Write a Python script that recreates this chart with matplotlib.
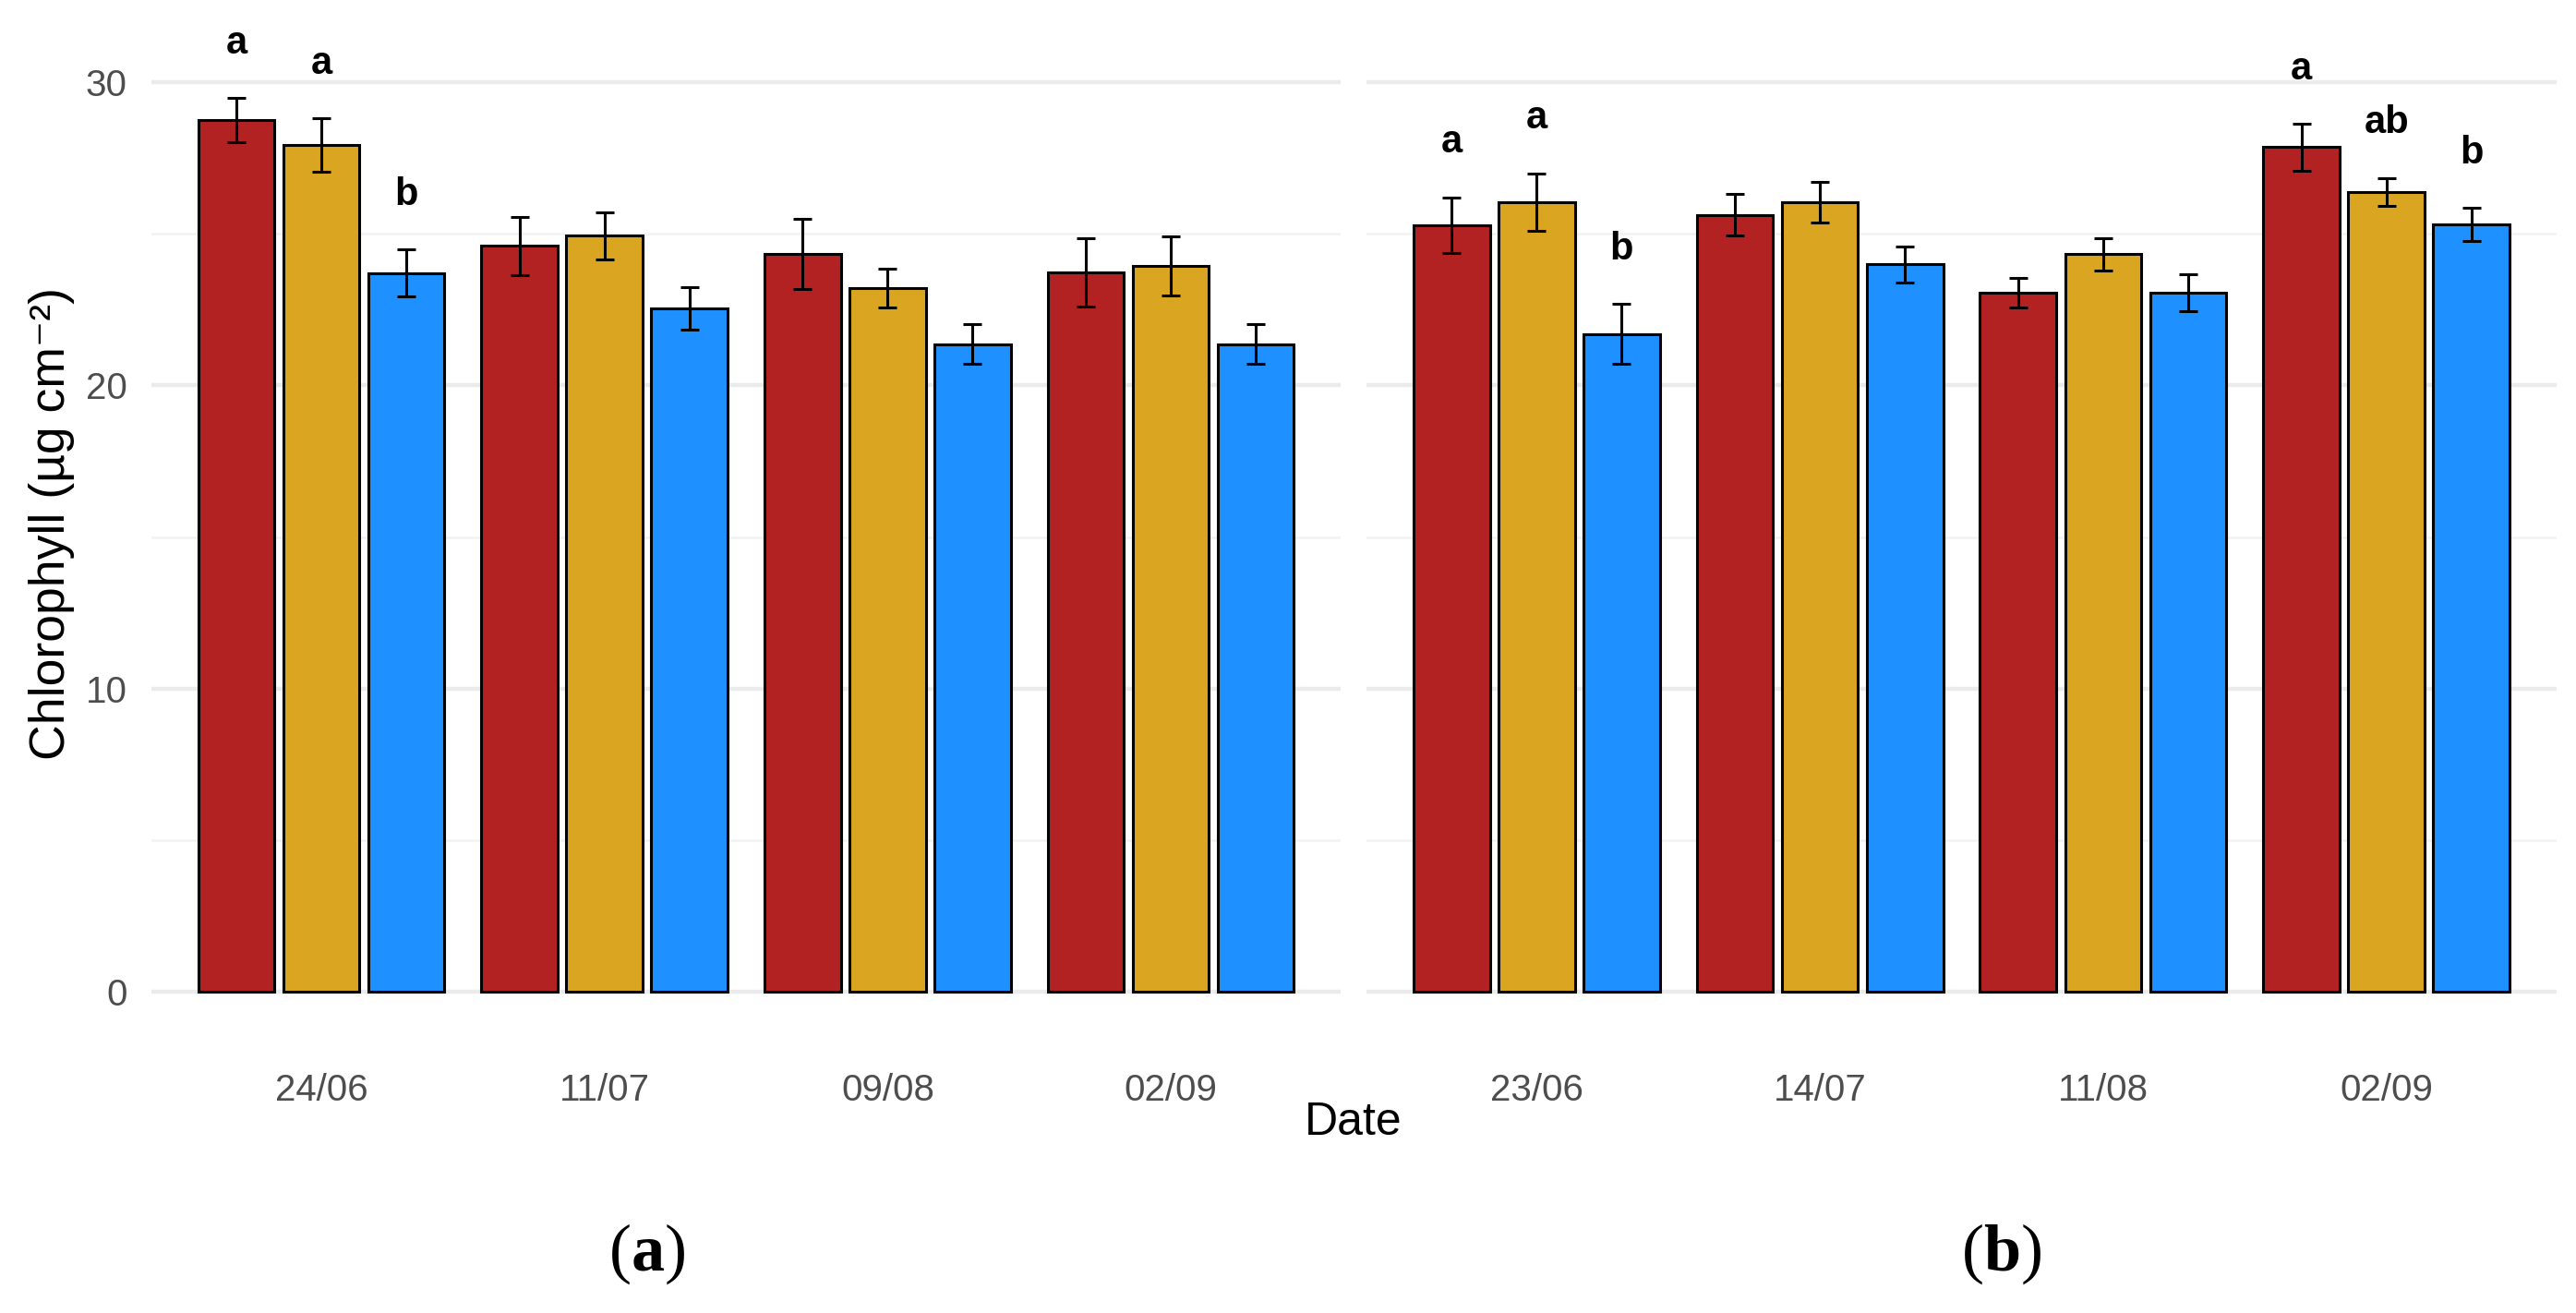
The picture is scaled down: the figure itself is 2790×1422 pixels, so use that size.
import matplotlib
matplotlib.use("Agg")
import matplotlib.pyplot as plt
import numpy as np

# ---------------- data ----------------
dates_a = ["24/06", "11/07", "09/08", "02/09"]
dates_b = ["23/06", "14/07", "11/08", "02/09"]
treatments = ["T1", "T2", "T3"]
colors = ["#B22222", "#DAA520", "#1E90FF"]

# panel (a) means and standard errors (rows: treatments, cols: dates)
mean_a = [[28.75, 24.60, 24.33, 23.74],
          [27.93, 24.94, 23.22, 23.95],
          [23.71, 22.54, 21.36, 21.36]]
se_a = [[0.73, 0.95, 1.16, 1.13],
        [0.88, 0.78, 0.64, 0.97],
        [0.78, 0.71, 0.66, 0.66]]
letters_a = [["a", "", "", ""],
             ["a", "", "", ""],
             ["b", "", "", ""]]

# panel (b)
mean_b = [[25.29, 25.63, 23.06, 27.86],
          [26.05, 26.04, 24.33, 26.39],
          [21.70, 23.99, 23.06, 25.31]]
se_b = [[0.92, 0.69, 0.48, 0.78],
        [0.95, 0.67, 0.54, 0.46],
        [0.99, 0.59, 0.60, 0.56]]
letters_b = [["a", "", "", "a"],
             ["a", "", "", "ab"],
             ["b", "", "", "b"]]

yticks = [0, 10, 20, 30]
yminor = [5, 15, 25]

# ---------------- layout ----------------
W, H = 2790, 1422
fig = plt.figure(figsize=(W / 100, H / 100), dpi=100)

ylo, yhi = -1.5, 32.7
y0_px, ppu = 1074, 32.83
top_px = y0_px - ppu * yhi
bot_px = y0_px - ppu * ylo
ax_bottom = 1 - bot_px / H
ax_height = (bot_px - top_px) / H

def make_ax(x0, x1):
    return fig.add_axes([x0 / W, ax_bottom, (x1 - x0) / W, ax_height])

ax_a = make_ax(164, 1452)
ax_b = make_ax(1480, 2769)

font = "Liberation Sans"
dodge = 0.3
bw = 0.27

def draw(ax, dates, means, ses, letters, show_y):
    x = np.arange(1, len(dates) + 1)
    ax.set_xlim(0.4, len(dates) + 0.6)
    ax.set_ylim(ylo, yhi)
    for g in yticks:
        ax.axhline(g, color="#EBEBEB", lw=3.2, zorder=0)
    for g in yminor:
        ax.axhline(g, color="#F2F2F2", lw=1.8, zorder=0)
    for i in range(len(treatments)):
        xs = x + (i - 1) * dodge
        ax.bar(xs, means[i], width=bw, color=colors[i], edgecolor="black",
               linewidth=2.2, zorder=2)
        ax.errorbar(xs, means[i], yerr=ses[i], fmt="none", ecolor="black",
                    elinewidth=2.2, capsize=7.5, capthick=2.2, zorder=3)
        for j in range(len(dates)):
            if letters[i][j]:
                ax.text(xs[j], means[i][j] + ses[i][j] + 1.8, letters[i][j],
                        ha="center", va="center", fontsize=30, fontweight="bold",
                        family=font, color="black", zorder=4, clip_on=False)
    for s in ax.spines.values():
        s.set_visible(False)
    ax.set_xticks(x)
    ax.set_xticklabels(dates, family=font, fontsize=29, color="#4D4D4D")
    ax.tick_params(axis="x", length=0, pad=28)
    ax.set_yticks(yticks)
    if show_y:
        ax.set_yticklabels([str(t) for t in yticks], family=font, fontsize=29,
                           color="#4D4D4D")
        ax.tick_params(axis="y", length=0, pad=19)
    else:
        ax.set_yticklabels([])
        ax.tick_params(axis="y", length=0)
    ax.set_facecolor("white")

draw(ax_a, dates_a, mean_a, se_a, letters_a, True)
draw(ax_b, dates_b, mean_b, se_b, letters_b, False)

fig.text(56 / W, 1 - 567 / H, "Chlorophyll (µg cm⁻²)", rotation=90,
         ha="center", va="center", fontsize=38.5, family=[font, "DejaVu Sans"])
fig.text(1466 / W, 1 - 1216 / H, "Date", ha="center", va="center",
         fontsize=36, family=font)

plt.rcParams["mathtext.fontset"] = "custom"
plt.rcParams["mathtext.bf"] = "Liberation Serif:bold"
plt.rcParams["mathtext.rm"] = "Liberation Serif"
for cx, lab in [(701, "a"), (2168, "b")]:
    fig.text(cx / W, 1 - 1358 / H, r"($\mathbf{%s}$)" % lab, ha="center",
             va="center", fontsize=52, family="Liberation Serif")

fig.savefig("out.png", dpi=100, facecolor="white")
